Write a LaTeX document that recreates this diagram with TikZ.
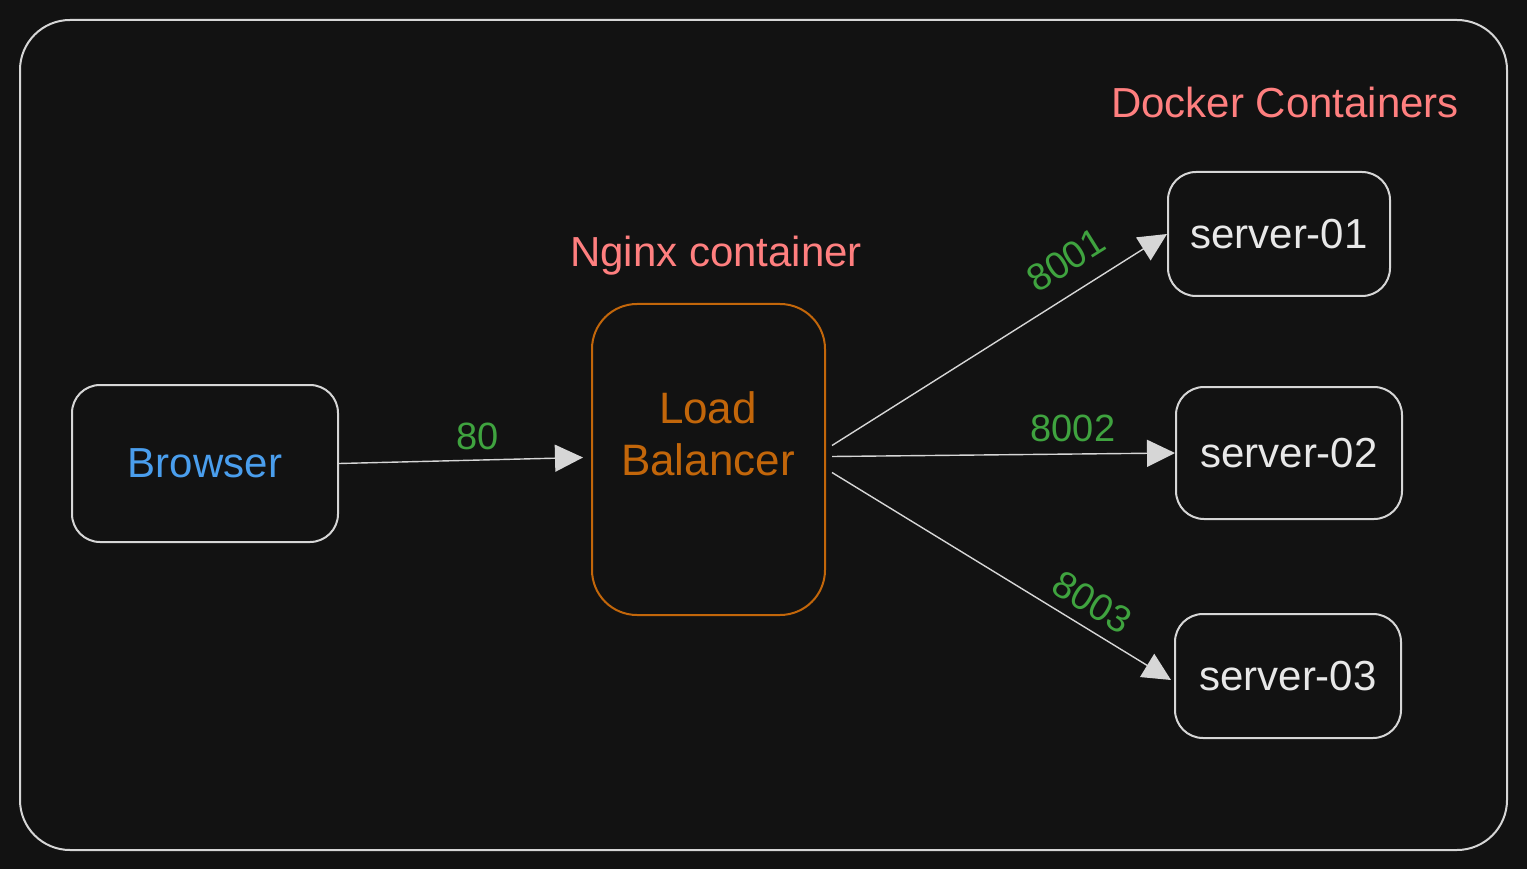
\documentclass[tikz,border=0pt]{standalone}
\usepackage{fontspec}
\setmainfont{Liberation Sans}
\usetikzlibrary{arrows.meta}
\definecolor{bg}{HTML}{121212}
\definecolor{strokegray}{HTML}{D6D6D6}
\definecolor{lbcol}{HTML}{C2660A}
\definecolor{blue1}{HTML}{4A9EED}
\definecolor{pink1}{HTML}{FF7F7F}
\definecolor{green1}{HTML}{3FA33F}
\definecolor{txtwhite}{HTML}{E8E8E8}
\begin{document}
\begin{tikzpicture}[x=1pt,y=-1pt,
  box/.style={draw=strokegray, line width=2pt, rounded corners=28pt},
  conn/.style={draw=strokegray, line width=1.4pt, -{Triangle[length=28pt,width=27pt]}},
  lbl/.style={text=green1, font=\fontsize{38}{42}\selectfont},
  title/.style={text=pink1, font=\fontsize{42}{46}\selectfont},
  srv/.style={text=txtwhite, font=\fontsize{42}{46}\selectfont}]
\fill[bg] (0,0) rectangle (1527,869);
\useasboundingbox (0,0) rectangle (1527,869);
\draw[strokegray, line width=2pt, rounded corners=50pt] (20,20) rectangle (1507,850);
% nodes
\node[box, minimum width=266pt, minimum height=157pt, text=blue1, font=\fontsize{42}{46}\selectfont] (browser) at (205,463.5) {Browser};
\node[box, draw=lbcol, rounded corners=45pt, minimum width=233pt, minimum height=311pt] (lb) at (708.5,459.5) {};
\node[text=lbcol, font=\fontsize{44}{52}\selectfont, align=center] (lbtext) at (708,434) {Load\\Balancer};
\node[box, minimum width=222pt, minimum height=124pt, srv] (s1) at (1279,234) {server-01};
\node[box, minimum width=226pt, minimum height=132pt, srv] (s2) at (1289,453) {server-02};
\node[box, minimum width=226pt, minimum height=124pt, srv] (s3) at (1288,676) {server-03};
\node[title] (nginx) at (716,256) {Nginx container};
\node[title] (docker) at (1285,102) {Docker Containers};
% connectors
\draw[conn] (browser.east) -- ([xshift=-8pt,yshift=2pt]lb.west);
\draw[conn] ([xshift=6pt,yshift=14pt]lb.east) -- (s1.west);
\draw[conn] ([xshift=6pt,yshift=3pt]lb.east) -- (s2.west);
\draw[conn] ([xshift=6pt,yshift=-13pt]lb.east) -- ([xshift=-3pt,yshift=-4pt]s3.west);
% labels
\node[lbl] (l80) at (478,436) {80};
\node[lbl, rotate=32] (l8001) at (1066,260) {8001};
\node[lbl] (l8002) at (1073,428) {8002};
\node[lbl, rotate=-31] (l8003) at (1092,602) {8003};
\end{tikzpicture}
\end{document}
